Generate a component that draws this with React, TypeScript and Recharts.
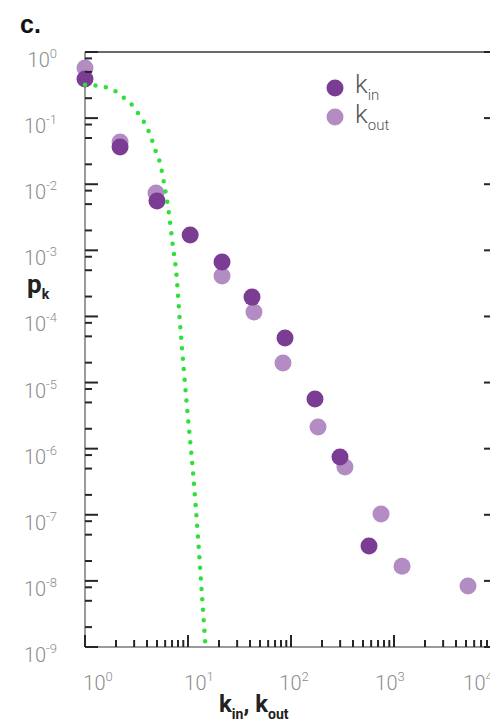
import React from "react";
import {
  ScatterChart,
  Scatter,
  XAxis,
  YAxis,
  Legend,
} from "recharts";

// degree distribution, in-degree
const K_IN = [1, 2.19, 5.0, 10.5, 21.4, 41.8, 87.5, 171, 299, 572];
const P_IN = [0.39, 0.0366, 0.00557, 0.0017, 6.65e-4, 1.96e-4, 4.71e-5, 5.62e-6, 7.46e-7, 3.36e-8];

// degree distribution, out-degree
const K_OUT = [1, 2.19, 4.89, 21.4, 43.7, 83.6, 183, 334, 748, 1197, 5230];
const P_OUT = [0.573, 0.0435, 0.00736, 4.08e-4, 1.17e-4, 1.97e-5, 2.12e-6, 5.27e-7, 1.03e-7, 1.67e-8, 8.34e-9];

// poisson reference curve
const K_FIT = [1, 1.56, 1.96, 2.34, 2.86, 3.27, 3.74, 4.18, 4.89, 5.35, 5.85, 6.54, 7.15, 7.65, 8.36, 9.78, 11.2, 12.5, 13.7, 14.8];
const P_FIT = [0.32, 0.295, 0.257, 0.208, 0.158, 0.119, 0.0873, 0.0616, 0.0307, 0.0209, 0.0104, 3.54e-3, 1.12e-3, 5.03e-4, 7.94e-5, 4.26e-6, 4.27e-7, 4.6e-8, 5.7e-9, 1e-9];

const X_DECADES = [0, 1, 2, 3, 4];
const Y_DECADES = [-9, -8, -7, -6, -5, -4, -3, -2, -1, 0];
const X_MANTISSAS = [1, 2, 3, 4, 5, 6, 7, 8, 9];
const Y_MANTISSAS = [1, 2, 5, 8];

const X_TICKS = X_DECADES.flatMap((d) =>
  d === 4 ? [10 ** d] : X_MANTISSAS.map((m) => m * 10 ** d)
);
const Y_TICKS = Y_DECADES.flatMap((d) =>
  d === 0 ? [1] : Y_MANTISSAS.map((m) => m * 10 ** d)
);

// x labels sit a little off their ticks, drifting left towards the right edge
const X_LABEL_NUDGE = [13, 11, 3, -4, -19];

const DARK = "#7b3c94";
const LIGHT = "#b28cc3";
const GREEN = "#2fe03a";
const AXIS = "#9a9a9a";
const TICK = "#262626";
const LABEL = "#8c8c8c";
const FONT = "Roboto, 'Noto Sans', sans-serif";

const inData = K_IN.map((k, i) => ({ k, p: P_IN[i] }));
const outData = K_OUT.map((k, i) => ({ k, p: P_OUT[i] }));
const fitData = K_FIT.map((k, i) => ({ k, p: P_FIT[i] }));

const isMajor = (v: number) => Math.abs(Math.log10(v) - Math.round(Math.log10(v))) < 1e-6;
const expOf = (v: number) => Math.round(Math.log10(v));

const MAJOR_LEN = 12;
const MINOR_LEN = 7;

const BottomTick = ({ x, y, payload }: any) => {
  const v = payload.value;
  const major = isMajor(v);
  return (
    <g>
      <line x1={x} x2={x} y1={y} y2={y - (major ? MAJOR_LEN : MINOR_LEN)} stroke={TICK} strokeWidth={2} />
      {major && (
        <text
          x={x + X_LABEL_NUDGE[expOf(v)]}
          y={y + 43}
          textAnchor="middle"
          fill={LABEL}
          fontSize={20}
          fontWeight={300}
          fontFamily={FONT}
        >
          10
          <tspan dy={-9} fontSize={13}>{expOf(v)}</tspan>
        </text>
      )}
    </g>
  );
};

const TopTick = ({ x, y, payload }: any) => {
  const major = isMajor(payload.value);
  return <line x1={x} x2={x} y1={y} y2={y + (major ? MAJOR_LEN : MINOR_LEN)} stroke={TICK} strokeWidth={2} />;
};

const LeftTick = ({ x, y, payload }: any) => {
  const v = payload.value;
  const major = isMajor(v);
  return (
    <g>
      <line x1={x} x2={x + (major ? MAJOR_LEN + 1 : MINOR_LEN)} y1={y} y2={y} stroke={TICK} strokeWidth={2} />
      {major && (
        <text x={x - 28} y={y + 15} textAnchor="end" fill={LABEL} fontSize={20} fontWeight={300} fontFamily={FONT}>
          10
          <tspan dy={-9} fontSize={13}>{expOf(v) === 0 ? "0" : `-${-expOf(v)}`}</tspan>
        </text>
      )}
    </g>
  );
};

const RightTick = ({ x, y, payload }: any) => {
  const major = isMajor(payload.value);
  return <line x1={x} x2={x - (major ? MAJOR_LEN + 1 : MINOR_LEN)} y1={y} y2={y} stroke={TICK} strokeWidth={2} />;
};

const Dot = (color: string) => (props: any) =>
  <circle cx={props.cx} cy={props.cy} r={8.5} fill={color} />;

const renderLegend = () => (
  <svg width={140} height={70} style={{ display: "block" }}>
    <circle cx={15} cy={18} r={8.5} fill={DARK} />
    <text x={35} y={23} fill="#555" fontSize={26} fontFamily={FONT} fontWeight={300}>
      k<tspan dy={7} fontSize={15}>in</tspan>
    </text>
    <circle cx={15} cy={47} r={8.5} fill={LIGHT} />
    <text x={35} y={53} fill="#555" fontSize={26} fontFamily={FONT} fontWeight={300}>
      k<tspan dy={7} fontSize={15}>out</tspan>
    </text>
  </svg>
);

export default function App() {
  return (
    <div
      style={{
        position: "absolute",
        left: 0,
        top: 0,
        width: 490,
        height: 726,
        overflow: "hidden",
        background: "#fff",
      }}
    >
      <ScatterChart width={517} height={726} margin={{ top: 51, right: 19, bottom: 78, left: 84 }}>
        <XAxis
          dataKey="k"
          type="number"
          scale="log"
          domain={[1, 10000]}
          ticks={X_TICKS}
          height={1}
          tickSize={0}
          tickMargin={0}
          interval={0}
          tick={<BottomTick />}
          axisLine={{ stroke: AXIS, strokeWidth: 2 }}
        />
        <XAxis
          xAxisId="top"
          orientation="top"
          type="number"
          scale="log"
          domain={[1, 10000]}
          ticks={X_TICKS}
          allowDataOverflow
          height={1}
          tickSize={0}
          tickMargin={0}
          interval={0}
          tick={<TopTick />}
          axisLine={{ stroke: "#6a6a6a", strokeWidth: 2 }}
        />
        <YAxis
          dataKey="p"
          type="number"
          scale="log"
          domain={[1e-9, 1]}
          ticks={Y_TICKS}
          width={1}
          tickSize={0}
          tickMargin={0}
          interval={0}
          tick={<LeftTick />}
          axisLine={{ stroke: AXIS, strokeWidth: 2 }}
        />
        <YAxis
          yAxisId="right"
          orientation="right"
          type="number"
          scale="log"
          domain={[1e-9, 1]}
          ticks={Y_TICKS}
          allowDataOverflow
          width={1}
          tickSize={0}
          tickMargin={0}
          interval={0}
          tick={<RightTick />}
          axisLine={{ stroke: AXIS, strokeWidth: 2 }}
        />
        <Legend
          layout="vertical"
          align="center"
          verticalAlign="middle"
          content={renderLegend}
          wrapperStyle={{ left: 320, top: 70, width: 140, height: 70 }}
        />
        <Scatter name="k_out" data={outData} fill={LIGHT} shape={Dot(LIGHT)} isAnimationActive={false} />
        <Scatter name="k_in" data={inData} fill={DARK} shape={Dot(DARK)} isAnimationActive={false} />
        <Scatter
          name="poisson"
          data={fitData}
          fill={GREEN}
          shape={() => <g />}
          line={{ stroke: GREEN, strokeWidth: 4.5, strokeDasharray: "0 10.5", strokeLinecap: "round" }}
          lineJointType="monotone"
          legendType="none"
          isAnimationActive={false}
        />
      </ScatterChart>

      <svg
        width={490}
        height={726}
        style={{ position: "absolute", left: 0, top: 0, pointerEvents: "none" }}
      >
        <text x={20} y={33} fontSize={25} fontWeight={700} fontFamily="'Liberation Sans', Arial, sans-serif" fill="#111">
          c.
        </text>
        <text x={27} y={293} fontSize={26} fontWeight={700} fontFamily={FONT} fill="#222">
          p<tspan dy={6} fontSize={14}>k</tspan>
        </text>
        <text x={219} y={712} fontSize={24} fontWeight={700} fontFamily={FONT} fill="#222">
          k<tspan dy={7} fontSize={14}>in</tspan>
          <tspan dy={-7}>, k</tspan>
          <tspan dy={7} fontSize={14}>out</tspan>
        </text>
      </svg>
    </div>
  );
}
